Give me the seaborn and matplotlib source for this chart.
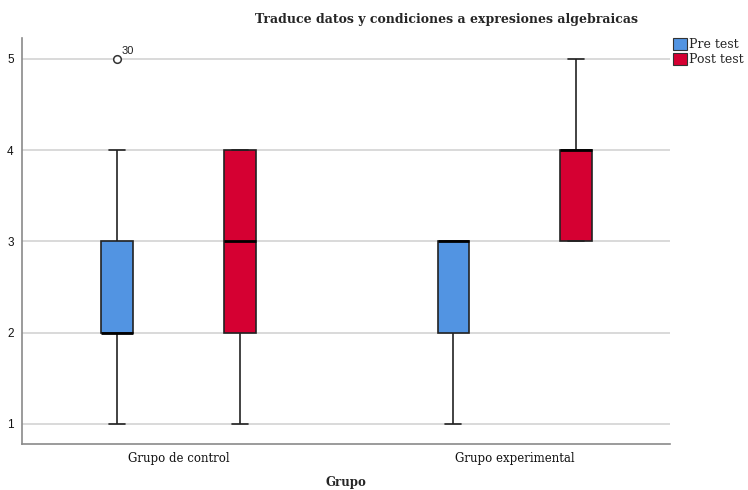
import numpy as np
import pandas as pd
import matplotlib
matplotlib.use("Agg")
import matplotlib.pyplot as plt
import seaborn as sns
from matplotlib.patches import Patch

# Score levels and how many students obtained each level, per group and moment
grupos = ["Grupo de control", "Grupo experimental"]
momentos = ["Pre test", "Post test"]
niveles = [1, 2, 3, 4, 5]
frec_control_pre = [2, 9, 6, 2, 1]
frec_control_post = [2, 4, 6, 8, 0]
frec_exp_pre = [2, 4, 14, 0, 0]
frec_exp_post = [0, 0, 6, 11, 3]
casos_atipicos = ["30"]

colores = ["#5294E2", "#D50032"]

frecuencias = {
    ("Grupo de control", "Pre test"): frec_control_pre,
    ("Grupo de control", "Post test"): frec_control_post,
    ("Grupo experimental", "Pre test"): frec_exp_pre,
    ("Grupo experimental", "Post test"): frec_exp_post,
}
filas = []
for (g, m), frec in frecuencias.items():
    for nivel, n in zip(niveles, frec):
        filas += [{"Grupo": g, "Momento": m, "Puntaje": nivel}] * n
df = pd.DataFrame(filas)

sns.set_theme(style="white")
plt.rcParams["font.family"] = ["DejaVu Serif"]

fig = plt.figure(figsize=(7.48, 4.90), dpi=100)
ax = fig.add_axes([0.0294, 0.0939, 0.8663, 0.8286])

for y in niveles:
    ax.axhline(y, color="#cfcfcf", lw=1.1, zorder=0)

sns.boxplot(
    data=df, x="Grupo", y="Puntaje", hue="Momento",
    order=grupos, hue_order=momentos, palette=colores,
    width=0.73, gap=0.74, whis=1.5, linecolor="#222222", linewidth=1.2,
    saturation=1,
    medianprops=dict(color="black", linewidth=2),
    flierprops=dict(marker="o", markersize=5.5, markerfacecolor="white",
                    markeredgecolor="#333333", markeredgewidth=1.1),
    legend=False, ax=ax,
)

# Label outlying cases with their case number
fliers = [ln for ln in ax.lines if ln.get_marker() == "o" and len(ln.get_xdata()) > 0]
etiquetas = iter(casos_atipicos)
for ln in fliers:
    for xv, yv in zip(ln.get_xdata(), ln.get_ydata()):
        ax.annotate(next(etiquetas, ""), (xv, yv), xytext=(3.5, 3.5),
                    textcoords="offset points", fontsize=8,
                    family="Liberation Sans", color="#222222")

ax.set_xlim(-0.465, 1.461)
ax.set_ylim(0.78, 5.23)
ax.set_yticks(niveles)
ax.set_yticklabels([str(v) for v in niveles], family="Liberation Sans", fontsize=8.5)
ax.tick_params(axis="both", length=0, pad=6, colors="#111111")
for lbl in ax.get_xticklabels():
    lbl.set_fontsize(8.5)
ax.set_ylabel("")
ax.set_xlabel("Grupo", fontsize=8.5, fontweight="bold", labelpad=8)

for s in ["top", "right"]:
    ax.spines[s].set_visible(False)
for s in ["left", "bottom"]:
    ax.spines[s].set_color("#8a8a8a")
    ax.spines[s].set_linewidth(1.2)

fig.text(447 / 748, 1 - 19 / 490, "Traduce datos y condiciones a expresiones algebraicas",
         ha="center", va="center", fontsize=9, fontweight="bold")

handles = [Patch(facecolor=c, edgecolor="#333333", linewidth=0.8) for c in colores]
fig.legend(handles, momentos, loc="upper left", bbox_to_anchor=(673 / 748, 1 - 38 / 490),
           frameon=False, fontsize=9, handlelength=1.1, handleheight=1.1,
           handletextpad=0.2, labelspacing=0.12, borderaxespad=0, borderpad=0)

fig.savefig("out.png", dpi=100)
